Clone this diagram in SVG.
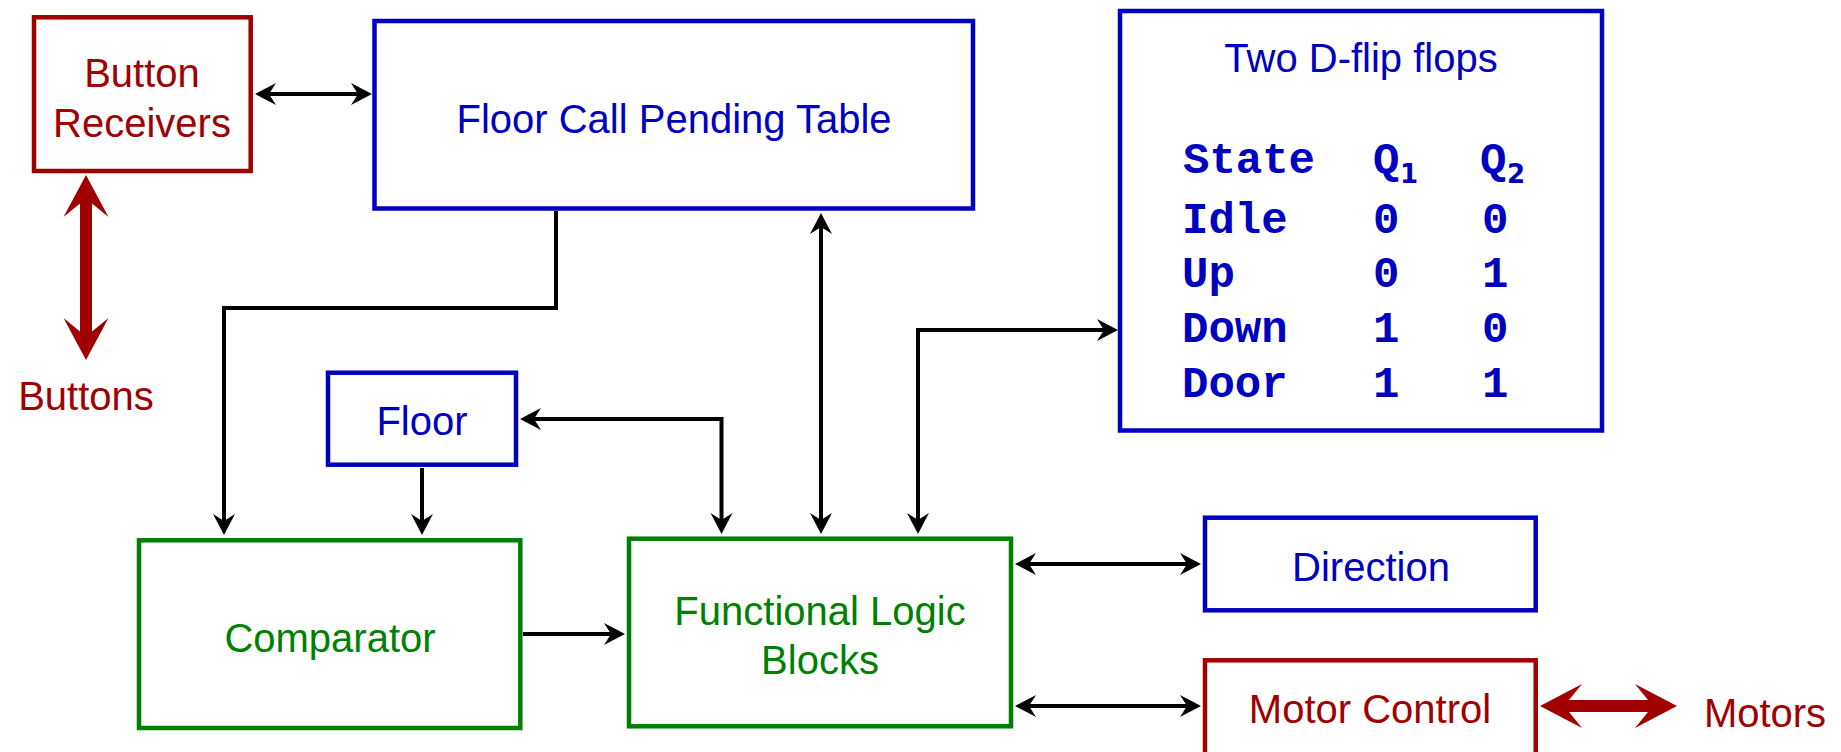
<svg xmlns="http://www.w3.org/2000/svg" width="1841" height="752" viewBox="0 0 1841 752">
<style>
.box{fill:none;stroke-width:4.5}
.b{stroke:#0000C0}
.r{stroke:#A00000}
.g{stroke:#008000}
.t{font-family:"Liberation Sans",Arial,sans-serif;font-size:40px;text-anchor:middle}
.tb{fill:#0000C0}
.tr{fill:#A00000}
.tg{fill:#008000}
.m{font-family:"Liberation Mono","Courier New",monospace;font-size:44px;font-weight:bold;fill:#0000C0}
.sub{font-family:"DejaVu Sans",Verdana,sans-serif;font-size:26px;font-weight:bold;fill:#0000C0}
.c{fill:none;stroke:#000;stroke-width:4;marker-end:url(#ah)}
.c2{marker-start:url(#ah)}
</style>
<defs>
<marker id="ah" markerUnits="userSpaceOnUse" viewBox="-12 -12 24 24" refX="0" refY="0" markerWidth="24" markerHeight="24" orient="auto-start-reverse">
<path d="M10,0 L-11,-11 L-4,0 L-11,11 Z" fill="#000"/>
</marker>
</defs>
<g id="connectors">
<path class="c c2" d="M265,94 H362"/>
<path class="c" d="M556,211 V308 H224 V525"/>
<path class="c" d="M422,468 V525"/>
<path class="c c2" d="M530,419 H721.5 V524"/>
<path class="c c2" d="M821,223 V524"/>
<path class="c c2" d="M918,524 V330 H1108"/>
<path class="c" d="M523,634 H615"/>
<path class="c c2" d="M1025,564 H1191"/>
<path class="c c2" d="M1025,706 H1191"/>
<polygon fill="#A00000" points="86,175 108.5,217 92,203.5 92,331.5 108.5,318 86,360 63.5,318 80,331.5 80,203.5 63.5,217"/>
<polygon fill="#A00000" points="1540,706 1582,684 1569,700 1648,700 1635,684 1677,706 1635,728 1648,712 1569,712 1582,728"/>
</g>
<g id="button-receivers">
<rect class="box r" x="34" y="17.3" width="216.7" height="153.7"/>
<text class="t tr" x="142" y="87">Button</text>
<text class="t tr" x="142" y="137">Receivers</text>
</g>
<g id="buttons">
<text class="t tr" x="86" y="410">Buttons</text>
</g>
<g id="floor-call-pending-table">
<rect class="box b" x="374.5" y="21" width="598.5" height="187.5"/>
<text class="t tb" x="674" y="133">Floor Call Pending Table</text>
</g>
<g id="flip-flops">
<rect class="box b" x="1120" y="11" width="482" height="419.5"/>
<text class="t tb" x="1361" y="72">Two D-flip flops</text>
<text class="m" x="1183" y="173">State</text>
<text class="m" x="1373" y="173">Q</text><text class="sub" x="1400" y="183">1</text>
<text class="m" x="1480" y="173">Q</text><text class="sub" x="1507" y="183">2</text>
<text class="m" x="1182" y="233">Idle</text>
<text class="m" x="1373" y="233">0</text>
<text class="m" x="1482" y="233">0</text>
<text class="m" x="1182" y="287">Up</text>
<text class="m" x="1373" y="287">0</text>
<text class="m" x="1482" y="287">1</text>
<text class="m" x="1182" y="342">Down</text>
<text class="m" x="1373" y="342">1</text>
<text class="m" x="1482" y="342">0</text>
<text class="m" x="1182" y="397">Door</text>
<text class="m" x="1373" y="397">1</text>
<text class="m" x="1482" y="397">1</text>
</g>
<g id="floor">
<rect class="box b" x="328" y="372.7" width="188" height="92"/>
<text class="t tb" x="422" y="435">Floor</text>
</g>
<g id="comparator">
<rect class="box g" x="139" y="540.3" width="381.3" height="187.7"/>
<text class="t tg" x="330" y="652">Comparator</text>
</g>
<g id="functional-logic-blocks">
<rect class="box g" x="629" y="538.7" width="382" height="187.6"/>
<text class="t tg" x="820" y="625">Functional Logic</text>
<text class="t tg" x="820" y="674">Blocks</text>
</g>
<g id="direction">
<rect class="box b" x="1205" y="517.7" width="330.7" height="92.6"/>
<text class="t tb" x="1371" y="581">Direction</text>
</g>
<g id="motor-control">
<rect class="box r" x="1205" y="660.3" width="330.7" height="100"/>
<text class="t tr" x="1370" y="723">Motor Control</text>
</g>
<g id="motors">
<text class="t tr" x="1765" y="727">Motors</text>
</g>
</svg>
